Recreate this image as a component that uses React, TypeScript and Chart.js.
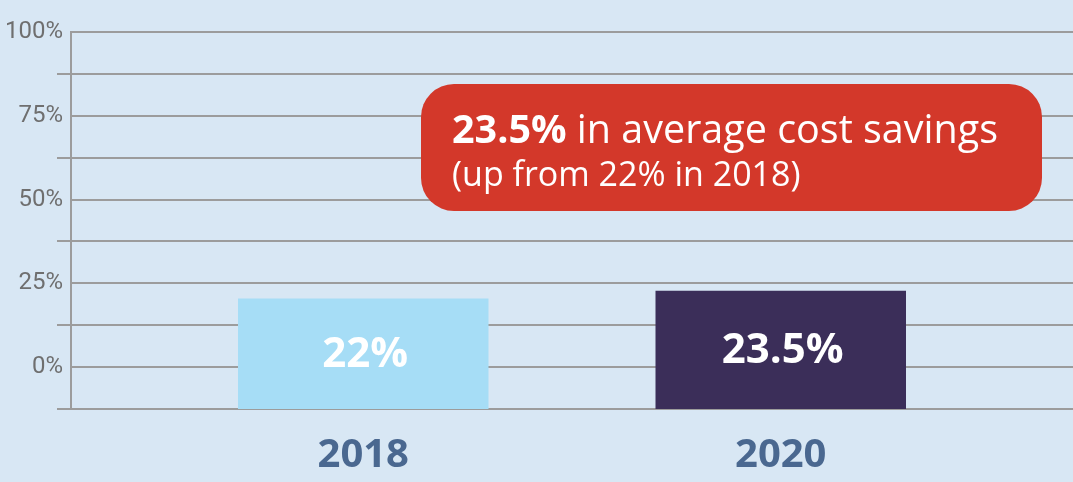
import React, { useEffect, useRef } from "react";
import { Chart, registerables } from "chart.js";

Chart.register(...registerables);

const categories = ["2018", "2020"];
const savings = [22, 23.5];
const barColors = ["#a6ddf6", "#3b2e59"];
const yTickValues = [0, 25, 50, 75, 100];
const yTickLabels = ["0%", "25%", "50%", "75%", "100%"];
const calloutBold = "23.5%";
const calloutRest = " in average cost savings";
const calloutLine2 = "(up from 22% in 2018)";

const BG = "#d8e7f4";
const GRID = "#9c9c9c";

export default function App() {
  const ref = useRef<HTMLCanvasElement | null>(null);

  useEffect(() => {
    document.body.style.margin = "0";
    const canvas = ref.current;
    if (!canvas) return;

    const bgPlugin = {
      id: "bg",
      beforeDraw(chart: any) {
        const ctx = chart.ctx;
        ctx.save();
        ctx.fillStyle = BG;
        ctx.fillRect(0, 0, chart.width, chart.height);
        ctx.restore();
      },
    };

    const barLabelPlugin = {
      id: "barLabels",
      afterDatasetsDraw(chart: any) {
        const ctx = chart.ctx;
        const meta = chart.getDatasetMeta(0);
        ctx.save();
        ctx.fillStyle = "#ffffff";
        ctx.font = "bold 42px 'Open Sans'";
        ctx.textAlign = "center";
        ctx.textBaseline = "middle";
        meta.data.forEach((bar: any, i: number) => {
          const p = bar.getProps(["x", "y", "base"], true);
          ctx.fillText(`${savings[i]}%`, p.x + 2, (p.y + p.base) / 2 + 1);
        });
        ctx.restore();
      },
    };

    const calloutPlugin = {
      id: "callout",
      afterDraw(chart: any) {
        const ctx = chart.ctx;
        ctx.save();
        ctx.fillStyle = "#d3382a";
        ctx.beginPath();
        ctx.roundRect(421, 84, 621, 127, 33);
        ctx.fill();
        ctx.fillStyle = "#ffffff";
        ctx.textAlign = "left";
        ctx.textBaseline = "alphabetic";
        ctx.font = "bold 39.5px 'Open Sans'";
        ctx.fillText(calloutBold, 452, 143);
        const w = ctx.measureText(calloutBold).width;
        ctx.font = "39.5px 'Open Sans'";
        ctx.fillText(calloutRest, 452 + w, 143);
        ctx.font = "34px 'Open Sans'";
        ctx.fillText(calloutLine2, 452, 186);
        ctx.restore();
      },
    };

    const chart = new Chart(canvas, {
      type: "bar",
      data: {
        datasets: [
          {
            data: categories.map((c, i) => ({ x: i, y: savings[i] })),
            backgroundColor: barColors,
            borderWidth: 0,
            yAxisID: "y2",
            xAxisID: "x",
            barPercentage: 0.6,
            categoryPercentage: 1,
          },
        ],
      },
      options: {
        responsive: false,
        animation: false,
        events: [],
        layout: { padding: { top: 32, left: 0, right: 0, bottom: 0 } },
        plugins: {
          legend: { display: false },
          tooltip: { enabled: false },
          title: { display: false },
        },
        scales: {
          x: {
            type: "linear",
            offset: false,
            min: -0.7,
            max: 1.7,
            grid: { display: false, drawTicks: false, offset: false },
            border: { display: false },
            afterBuildTicks: (scale: any) => {
              scale.ticks = categories.map((_, i) => ({ value: i }));
            },
            afterFit: (scale: any) => {
              scale.height = 73;
            },
            ticks: {
              autoSkip: false,
              maxRotation: 0,
              padding: 23,
              color: "#4a6890",
              font: {
                family: "'Open Sans'",
                weight: "bold",
                size: 40,
              },
              callback: (v: any) => categories[v] ?? "",
            },
          },
          y: {
            type: "linear",
            position: "left",
            min: -12.5,
            max: 100,
            afterFit: (scale: any) => {
              scale.width = 71;
            },
            ticks: {
              stepSize: 12.5,
              padding: -6,
              color: "#6f6f6f",
              font: { family: "Roboto", size: 24 },
              callback: (v: any) => {
                const k = yTickValues.indexOf(Number(v));
                return k >= 0 ? yTickLabels[k] : "";
              },
            },
            grid: {
              color: GRID,
              lineWidth: 2,
              tickLength: 14,
              tickColor: (ctx: any) =>
                yTickValues.indexOf(ctx.tick?.value) >= 0 ? "rgba(0,0,0,0)" : GRID,
            },
            border: { color: GRID, width: 2 },
          },
          y2: {
            type: "linear",
            display: false,
            min: 0,
            max: 75,
          },
        },
      },
      plugins: [bgPlugin, barLabelPlugin, calloutPlugin],
    } as any);

    return () => chart.destroy();
  }, []);

  return (
    <div style={{ position: "absolute", left: 0, top: 0, width: 1073, height: 482, background: BG }}>
      <canvas ref={ref} width={1073} height={482} style={{ display: "block" }} />
    </div>
  );
}
